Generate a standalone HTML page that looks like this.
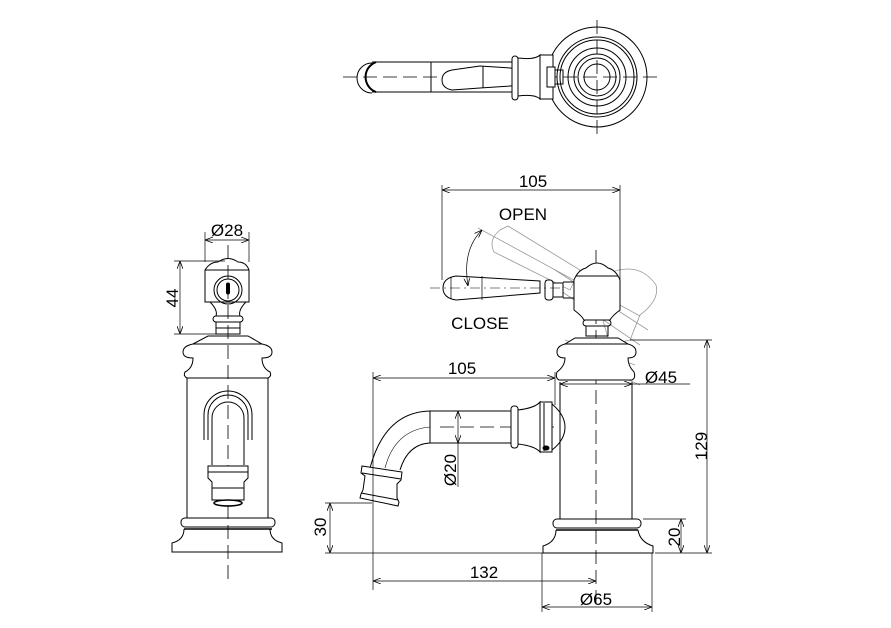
<!DOCTYPE html>
<html><head><meta charset="utf-8"><style>
html,body{margin:0;padding:0;background:#fff;}
svg{display:block;}
text{font-family:"Liberation Sans",sans-serif;font-size:17px;fill:#000;}
</style></head><body>
<svg width="891" height="628" viewBox="0 0 891 628" xmlns="http://www.w3.org/2000/svg">
<defs>
<marker id="a" markerWidth="8" markerHeight="6" refX="8" refY="3" orient="auto-start-reverse" markerUnits="userSpaceOnUse"><path d="M0,0 L8,3 L0,6" fill="none" stroke="#000" stroke-width="0.8"/></marker>
</defs>
<g fill="none" stroke="#000" stroke-width="1">
<!-- TOP VIEW -->
<line x1="343" y1="77" x2="662" y2="77" stroke-dasharray="14,6" stroke-width="0.8"/>
<line x1="597" y1="20" x2="597" y2="136" stroke-dasharray="14,6" stroke-width="0.8"/>
<circle cx="597" cy="77" r="50"/>
<circle cx="597" cy="77" r="40"/>
<circle cx="597" cy="77" r="37"/>
<circle cx="597" cy="77" r="29"/>
<circle cx="597" cy="77" r="23"/>
<circle cx="597" cy="77" r="19"/>
<circle cx="597" cy="77" r="13"/>
<path d="M372,63 A15,15 0 0 0 372,93"/>
<path d="M376,62 A16,16 0 0 0 376,92" stroke-width="2"/>
<line x1="372" y1="62" x2="520" y2="62"/>
<line x1="372" y1="92" x2="520" y2="92"/>
<line x1="431" y1="62" x2="431" y2="92"/>
<path d="M452,70 Q442,72 442,80 Q442,88 452,90 L480,88 L540,84 L540,70 L480,66 Z" fill="#fff"/>
<line x1="483" y1="66" x2="483" y2="88"/>
<rect x="512" y="56" width="6" height="44" rx="3" fill="#fff"/>
<path d="M518,58 Q535,60 540,55 L540,99 Q535,94 518,96 Z" fill="#fff"/>
<rect x="540" y="55" width="13" height="44" fill="#fff"/>
<rect x="547" y="67" width="8" height="20" fill="#fff"/>
<path d="M555,70 L563,70 L563,84 L555,84"/>

<!-- LEFT VIEW -->
<line x1="228" y1="245" x2="228" y2="580" stroke-dasharray="14,6" stroke-width="0.8"/>
<path d="M205,302 L205,270 Q210,262 218,262 Q228,255 238,262 Q246,262 249,270 L249,302 Z"/>
<line x1="205" y1="270" x2="249" y2="270"/>
<circle cx="228" cy="290" r="14"/>
<circle cx="228" cy="290" r="11"/>
<rect x="226.5" y="283" width="3" height="11" rx="1.5" fill="#000"/>
<path d="M210,302 Q218,310 216,316 L240,316 Q238,310 246,302"/>
<rect x="213" y="316" width="30" height="6" rx="3"/>
<rect x="216" y="322" width="24" height="12"/>
<line x1="216" y1="328" x2="240" y2="328"/>
<path d="M208,336 L248,336 L262,344 Q272,346 272,352 Q272,358 262,358 Q262,368 270,372 Q272,376 268,378 L187,378 Q183,376 185,372 Q193,368 193,358 Q183,358 183,352 Q183,346 193,344 Z"/>
<line x1="193" y1="344" x2="262" y2="344"/>
<line x1="187" y1="378" x2="187" y2="518"/>
<line x1="268" y1="378" x2="268" y2="518"/>
<path d="M208,440 L208,415 A20,20 0 0 1 248,415 L248,440"/>
<path d="M204,440 L204,415 A24,24 0 0 1 252,415 L252,440"/>
<path d="M212,465 L212,418 A16,16 0 0 1 244,418 L244,465"/>
<path d="M208,466 L248,466 L248,478 L244,482 L244,500 L212,500 L212,482 L208,478 Z" fill="#fff"/>
<line x1="208" y1="472" x2="248" y2="472"/>
<line x1="212" y1="488" x2="244" y2="488"/>
<ellipse cx="228" cy="503" rx="14" ry="3" stroke-width="1.6"/>
<rect x="181" y="518" width="94" height="9" rx="4"/>
<line x1="184" y1="529" x2="272" y2="529" stroke-width="1.6"/>
<path d="M184,529 Q184,540 172,543 L172,552 L282,552 L282,543 Q270,540 270,529"/>
<!-- dims -->
<line x1="205" y1="232" x2="205" y2="262" stroke-width="0.7"/>
<line x1="249" y1="232" x2="249" y2="262" stroke-width="0.7"/>
<line x1="205" y1="240" x2="249" y2="240" stroke-width="0.7" marker-start="url(#a)" marker-end="url(#a)"/>
<line x1="174" y1="261" x2="225" y2="261" stroke-width="0.7"/>
<line x1="174" y1="334" x2="218" y2="334" stroke-width="0.7"/>
<line x1="180" y1="261" x2="180" y2="334" stroke-width="0.7" marker-start="url(#a)" marker-end="url(#a)"/>

<!-- RIGHT VIEW -->
<line x1="596" y1="250" x2="596" y2="608" stroke-dasharray="14,6" stroke-width="0.8"/>
<!-- ghost open lever -->
<g stroke="#999" stroke-width="0.8">
<path d="M500,230 Q488,240 494,252 L570,290 L580,270 L508,226 Z"/>
<path d="M612,272 Q640,262 656,285 Q660,300 640,315 L630,340 L610,345 L600,310 Z"/>
<line x1="545" y1="280" x2="640" y2="345"/><line x1="555" y1="270" x2="648" y2="330"/>
<line x1="560" y1="350" x2="640" y2="385"/><line x1="565" y1="340" x2="635" y2="365"/>
<line x1="478" y1="228" x2="640" y2="316"/>
</g>
<!-- lever -->
<path d="M456,276 Q443,278 443,288 Q443,298 456,300 L540,293 L540,281 Z" fill="#fff"/>
<line x1="451" y1="277" x2="451" y2="299" stroke-width="0.7"/>
<line x1="482" y1="276" x2="482" y2="300" stroke-width="0.7"/>
<rect x="545" y="280" width="8" height="20" rx="3" fill="#fff"/>
<rect x="553" y="283" width="10" height="14" fill="#fff"/>
<line x1="563" y1="282" x2="576" y2="282"/><line x1="563" y1="298" x2="576" y2="298"/>
<line x1="430" y1="288" x2="560" y2="288" stroke-dasharray="10,4,2,4" stroke-width="0.6"/>
<path d="M574,310 L574,280 Q578,270 586,268 Q597,258 608,268 Q616,270 620,280 L620,310 Q612,316 610,320 L584,320 Q582,316 574,310 Z" fill="#fff"/>
<line x1="576" y1="276" x2="618" y2="276"/>
<rect x="583" y="320" width="28" height="6" rx="3"/>
<rect x="586" y="326" width="22" height="10"/>
<path d="M575,338 L618,338 L628,344 Q636,346 636,352 Q636,358 628,358 Q628,366 634,372 Q636,378 632,380 L559,380 Q555,378 557,372 Q565,366 565,358 Q557,358 557,352 Q557,346 565,344 Z" fill="#fff"/>
<line x1="565" y1="344" x2="628" y2="344"/>
<line x1="560" y1="382" x2="560" y2="519"/>
<line x1="632" y1="382" x2="632" y2="519"/>
<rect x="553" y="519" width="88" height="9" rx="4"/>
<line x1="556" y1="530" x2="638" y2="530" stroke-width="1.6"/>
<path d="M556,530 Q556,542 543,546 L543,553 L653,553 L653,546 Q640,542 638,530"/>
<!-- spout -->
<line x1="430" y1="411" x2="512" y2="411"/>
<line x1="430" y1="443" x2="512" y2="443"/>
<line x1="430" y1="411" x2="430" y2="443"/>
<path d="M430,411 Q385,412 370,468"/>
<path d="M430,443 Q408,444 400,470"/>
<path d="M430,427 Q395,430 385,468" stroke-width="0.6"/>
<line x1="440" y1="427" x2="560" y2="427" stroke-dasharray="14,6" stroke-width="0.8"/>
<rect x="511" y="406" width="7" height="42" rx="3" fill="#fff"/>
<path d="M518,410 Q535,408 540,402 L540,452 Q535,446 518,444 Z" fill="#fff"/>
<rect x="540" y="402" width="12" height="50" fill="#fff"/>
<line x1="544" y1="403" x2="544" y2="451"/>
<ellipse cx="546" cy="448" rx="3" ry="2" fill="#000"/>
<path d="M552,404 Q565,415 565,427 Q565,440 552,450"/>
<path d="M362,466 L402,472 L401,480 L397,484 L397,498 L399,502 L398,506 L360,498 L361,494 L363,490 L365,476 L361,473 Z" fill="#fff"/>
<line x1="362" y1="473" x2="401" y2="479"/>
<line x1="361" y1="493" x2="398" y2="500"/>
<!-- right dims -->
<line x1="442" y1="185" x2="442" y2="280" stroke-width="0.7"/>
<line x1="620" y1="185" x2="620" y2="290" stroke-width="0.7"/>
<line x1="442" y1="190" x2="620" y2="190" stroke-width="0.7" marker-start="url(#a)" marker-end="url(#a)"/>
<path d="M482,230 Q462,250 468,286" stroke-width="0.7" marker-start="url(#a)" marker-end="url(#a)"/>
<line x1="373" y1="372" x2="373" y2="590" stroke-width="0.7"/>
<line x1="555" y1="372" x2="555" y2="405" stroke-width="0.7"/>
<line x1="373" y1="378" x2="555" y2="378" stroke-width="0.7" marker-start="url(#a)" marker-end="url(#a)"/>
<line x1="560" y1="384" x2="632" y2="384" stroke-width="0.7" marker-start="url(#a)" marker-end="url(#a)"/>
<line x1="632" y1="384" x2="690" y2="384" stroke-width="0.7"/>
<line x1="458" y1="411" x2="458" y2="443" stroke-width="0.7" marker-start="url(#a)" marker-end="url(#a)"/>
<line x1="458" y1="443" x2="458" y2="487" stroke-width="0.7"/>
<line x1="630" y1="340" x2="712" y2="340" stroke-width="0.7"/>
<line x1="655" y1="553" x2="712" y2="553" stroke-width="0.7"/>
<line x1="707" y1="340" x2="707" y2="553" stroke-width="0.7" marker-start="url(#a)" marker-end="url(#a)"/>
<line x1="643" y1="519" x2="686" y2="519" stroke-width="0.7"/>
<line x1="681" y1="519" x2="681" y2="553" stroke-width="0.7" marker-start="url(#a)" marker-end="url(#a)"/>
<line x1="325" y1="503" x2="372" y2="503" stroke-width="0.7"/>
<line x1="325" y1="553" x2="543" y2="553" stroke-width="0.7"/>
<line x1="330" y1="503" x2="330" y2="553" stroke-width="0.7" marker-start="url(#a)" marker-end="url(#a)"/>
<line x1="373" y1="581" x2="596" y2="581" stroke-width="0.7" marker-start="url(#a)" marker-end="url(#a)"/>
<line x1="542" y1="553" x2="542" y2="612" stroke-width="0.7"/>
<line x1="652" y1="553" x2="652" y2="612" stroke-width="0.7"/>
<line x1="542" y1="607" x2="652" y2="607" stroke-width="0.7" marker-start="url(#a)" marker-end="url(#a)"/>
</g>
<text x="227" y="236" text-anchor="middle">Ø28</text>
<text transform="translate(178,298) rotate(-90)" text-anchor="middle">44</text>
<text x="533" y="187" text-anchor="middle">105</text>
<text x="523" y="220" text-anchor="middle">OPEN</text>
<text x="480" y="329" text-anchor="middle">CLOSE</text>
<text x="462" y="374" text-anchor="middle">105</text>
<text x="661" y="383" text-anchor="middle">Ø45</text>
<text transform="translate(707,446) rotate(-90)" text-anchor="middle">129</text>
<text transform="translate(456,470) rotate(-90)" text-anchor="middle">Ø20</text>
<text transform="translate(680,537) rotate(-90)" text-anchor="middle">20</text>
<text transform="translate(326,527) rotate(-90)" text-anchor="middle">30</text>
<text x="484" y="578" text-anchor="middle">132</text>
<text x="596" y="605" text-anchor="middle">Ø65</text>
</svg>
</body></html>
